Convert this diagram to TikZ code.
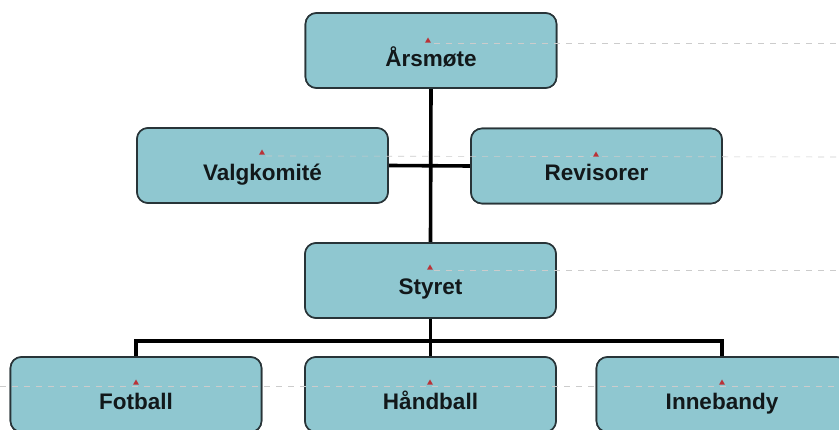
\documentclass[tikz,border=0pt]{standalone}
\usepackage{fontspec}
\setmainfont{Liberation Sans}
\usetikzlibrary{shapes.geometric}
\definecolor{boxfill}{RGB}{143,199,208}
\definecolor{boxdraw}{RGB}{40,52,56}
\definecolor{txt}{RGB}{18,24,26}
\definecolor{mark}{RGB}{185,50,55}
\tikzset{
  orgbox/.style={draw=boxdraw, line width=1.6pt, fill=boxfill, rounded corners=11pt,
    minimum width=251pt, minimum height=75pt, inner sep=0pt},
  orgtext/.style={font=\bfseries\fontsize{22.5}{22.5}\selectfont, text=txt, inner sep=0pt, anchor=base},
  wire/.style={line width=3.6pt, draw=black},
  guide/.style={draw=gray!40, line width=0.6pt, dash pattern=on 6pt off 6pt},
  redmark/.style={fill=mark, draw=none, regular polygon, regular polygon sides=3, minimum size=7pt, inner sep=0pt}
}
\begin{document}
\begin{tikzpicture}[x=1pt,y=-1pt]
\useasboundingbox (0,0) rectangle (839,430);
\clip (0,0) rectangle (839,430);
\fill[white] (0,0) rectangle (839,430);
% boxes
\path
  node[orgbox] (ars)  at (431,50.5)   {}
  node[orgbox] (valg) at (262.5,165.5) {}
  node[orgbox] (rev)  at (596.5,166)  {}
  node[orgbox] (sty)  at (430.5,280.5) {}
  node[orgbox] (fot)  at (136,394.5)  {}
  node[orgbox] (hand) at (430.5,394.5) {}
  node[orgbox] (inne) at (722,394.5)  {};
% connectors
\coordinate (busL) at (136,341);
\coordinate (busR) at (722,341);
\coordinate (busM) at (430.5,341);
\draw[wire] (ars.south) -- (sty.north);
\draw[wire] (valg.east) -- (rev.west);
\draw[wire] (sty.south) -- (busM);
\draw[wire] (fot.north) -- (busL) -- (busR) -- (inne.north);
\draw[wire] (busM) -- (hand.north);
% redraw boxes on top of connector ends
\foreach \x/\y in {431/50.5, 262.5/165.5, 596.5/166, 430.5/280.5, 136/394.5, 430.5/394.5, 722/394.5}{
  \node[orgbox] at (\x,\y) {};
}
% faint guide lines and markers
\draw[guide] (434,43) -- (839,43);
\draw[guide] (266,156) -- (839,157);
\draw[guide] (434,270) -- (839,270);
\draw[guide] (0,386) -- (839,386);
\node[redmark] (m1) at (428,41) {};
\node[redmark] (m2) at (262,153) {};
\node[redmark] (m3) at (596,155) {};
\node[redmark] (m4) at (430,268) {};
\node[redmark] (m5) at (136,383) {};
\node[redmark] (m6) at (430,383) {};
\node[redmark] (m7) at (722,383) {};
% texts
\node[orgtext] (tars)  at ([yshift=-16.5pt]ars.center)  {Årsmøte};
\node[orgtext] (tvalg) at ([yshift=-15pt]valg.center) {Valgkomité};
\node[orgtext] (trev)  at ([yshift=-15pt]rev.center)  {Revisorer};
\node[orgtext] (tsty)  at ([yshift=-14.5pt]sty.center)  {Styret};
\node[orgtext] (tfot)  at ([yshift=-15pt]fot.center)  {Fotball};
\node[orgtext] (thand) at ([yshift=-15pt]hand.center) {Håndball};
\node[orgtext] (tinne) at ([yshift=-15pt]inne.center) {Innebandy};
\end{tikzpicture}
\end{document}
